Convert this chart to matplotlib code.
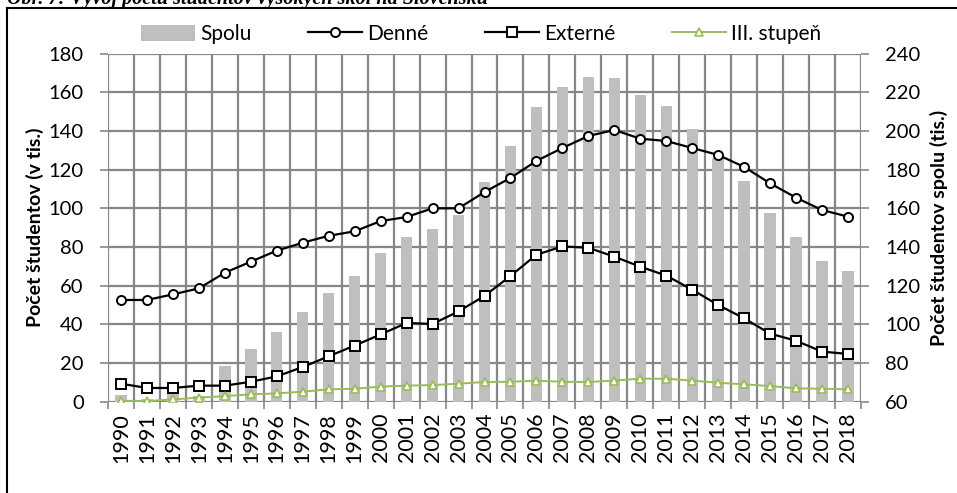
import matplotlib
matplotlib.use("Agg")
import matplotlib.pyplot as plt
from matplotlib.lines import Line2D
import numpy as np

years = [str(y) for y in range(1990, 2019)]
spolu = [63.5, 61.5, 64.7, 63.0, 78.6, 87.2, 96.0, 106.2, 116.0, 124.8, 136.7, 145.0, 149.3, 156.5,
         173.8, 192.4, 212.2, 222.7, 228.0, 227.2, 218.6, 212.9, 201.0, 186.0, 174.3, 157.5, 145.3, 132.8, 127.7]
denne = [52.6, 52.6, 55.5, 58.6, 66.7, 72.4, 78.1, 82.2, 85.8, 88.1, 93.4, 95.5, 100.0, 100.0,
         108.4, 115.7, 124.5, 131.2, 137.4, 140.5, 136.0, 134.8, 131.2, 127.6, 121.4, 112.9, 105.5, 99.1, 95.7]
externe = [9.3, 7.1, 7.1, 8.3, 8.3, 10.3, 13.1, 17.9, 23.5, 29.0, 34.8, 40.7, 40.2, 46.7,
           54.7, 65.0, 76.0, 80.3, 79.6, 75.0, 69.8, 65.2, 57.9, 50.0, 43.1, 35.2, 31.5, 25.9, 24.7]
treti = [0.5, 0.3, 1.2, 2.1, 2.9, 3.8, 4.3, 5.2, 6.4, 6.7, 7.8, 8.3, 8.6, 9.3,
         10.2, 10.3, 10.9, 10.3, 10.2, 10.9, 11.9, 11.9, 10.9, 9.8, 9.0, 8.1, 6.9, 6.7, 6.4]

title = "Obr. 7: Vývoj počtu študentov vysokých škôl na Slovensku"
left_label = "Počet študentov (v tis.)"
right_label = "Počet študentov spolu (tis.)"

plt.rcParams['font.family'] = ['Lato', 'DejaVu Sans']
FS = 14.5
GRID = '#878787'

fig = plt.figure(figsize=(9.57, 4.93), dpi=100)
ax = fig.add_axes([108/957, 1-401.7/493, (861-108)/957, (401.7-53.6)/493])
ax2 = ax.twinx()
ax.set_zorder(ax2.get_zorder() + 1)
ax.patch.set_visible(False)
ax2.patch.set_visible(True)
ax2.patch.set_facecolor('white')

x = np.arange(len(years))
bars = ax2.bar(x, spolu, width=0.44, color='#BFBFBF', zorder=2, label='Spolu')
l1, = ax.plot(x, denne, color='black', lw=1.6, marker='o', ms=6.5, mfc='white', mec='black', mew=1.4, label='Denné')
l2, = ax.plot(x, externe, color='black', lw=1.6, marker='s', ms=7, mfc='white', mec='black', mew=1.4, label='Externé')
l3, = ax.plot(x, treti, color='#9BBB59', lw=1.4, marker='^', ms=5.5, mfc='white', mec='#9BBB59', mew=1.2, label='III. stupeň')

ax.set_xlim(-0.5, len(years) - 0.5)
ax.set_ylim(0, 180)
ax2.set_ylim(60, 240)
ax.set_yticks(np.arange(0, 181, 20))
ax2.set_yticks(np.arange(60, 241, 20))
ax.set_xticks(x)
ax.set_xticklabels(years, rotation=90)
ax.set_xticks(np.arange(-0.5, len(years), 1), minor=True)

ax2.xaxis.set_visible(True)
ax2.grid(True, which='minor', axis='x', color=GRID, lw=1.6)
ax2.grid(True, which='major', axis='y', color=GRID, lw=1.6)
ax2.set_axisbelow(True)
ax2.tick_params(axis='x', which='both', labelbottom=False, length=0)

for a in (ax, ax2):
    for s in a.spines.values():
        s.set_visible(False)

ax.tick_params(axis='y', length=5.5, width=1.2, color=GRID, pad=12, labelsize=FS)
ax2.tick_params(axis='y', length=5.5, width=1.2, color=GRID, pad=12, labelsize=FS)
ax.tick_params(axis='x', which='major', length=0, pad=8, labelsize=15.5)
ax.tick_params(axis='x', which='minor', length=5, width=1.2, color=GRID)

ax.set_ylabel(left_label, fontsize=FS - 0.5, fontweight='bold', labelpad=3)
ax2.set_ylabel(right_label, fontsize=FS - 0.5, fontweight='bold', labelpad=7)

handles = [bars, l1, l2, l3]
fig.legend(handles, [h.get_label() for h in handles], loc='center', bbox_to_anchor=(481/957, 1-34/493),
           ncol=4, frameon=False, fontsize=FS + 0.5, handlelength=2.6, handletextpad=0.25, columnspacing=2.7,
           borderaxespad=0, handleheight=0.8)

fig.text(7/957, 1-4/493, title, family='Liberation Serif', fontweight='bold', fontstyle='italic',
         fontsize=14.5, ha='left', va='baseline')

fig.add_artist(Line2D([7/957, 7/957], [0, 1-7.5/493], color='black', lw=1.5, transform=fig.transFigure))
fig.add_artist(Line2D([7/957, 1], [1-7.5/493, 1-7.5/493], color='black', lw=1.5, transform=fig.transFigure))

fig.savefig('out.png', dpi=100)
